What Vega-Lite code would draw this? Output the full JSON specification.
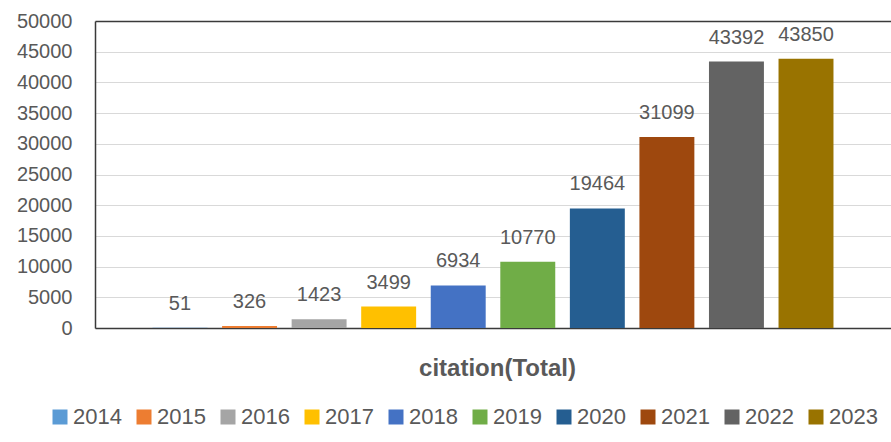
{
  "$schema": "https://vega.github.io/schema/vega-lite/v6.json",
  "autosize": {"type": "none"},
  "width": 796,
  "height": 307,
  "padding": {"left": 95, "top": 21, "right": 0, "bottom": 114},
  "background": "white",
  "config": {"view": {"stroke": null}, "font": "Liberation Sans"},
  "data": {
    "values": [
      {"year": "2014", "citations": 51},
      {"year": "2015", "citations": 326},
      {"year": "2016", "citations": 1423},
      {"year": "2017", "citations": 3499},
      {"year": "2018", "citations": 6934},
      {"year": "2019", "citations": 10770},
      {"year": "2020", "citations": 19464},
      {"year": "2021", "citations": 31099},
      {"year": "2022", "citations": 43392},
      {"year": "2023", "citations": 43850}
    ]
  },
  "encoding": {
    "x": {
      "field": "year",
      "type": "nominal",
      "scale": {"paddingInner": 0.21, "paddingOuter": 0.827},
      "axis": {
        "labels": false,
        "ticks": false,
        "domain": true,
        "domainColor": "#3a3a3a",
        "domainWidth": 1.5,
        "grid": false,
        "title": "citation(Total)",
        "titleFont": "Liberation Sans",
        "titleFontSize": 24,
        "titleFontWeight": "bold",
        "titleColor": "#595959",
        "titlePadding": 28,
        "titleX": 402
      }
    },
    "y": {
      "field": "citations",
      "type": "quantitative",
      "scale": {"domain": [0, 50000], "nice": false},
      "axis": {
        "values": [0, 5000, 10000, 15000, 20000, 25000, 30000, 35000, 40000, 45000, 50000],
        "title": null,
        "ticks": false,
        "domainColor": "#3a3a3a",
        "domainWidth": 1.5,
        "grid": true,
        "gridColor": {"condition": {"test": "datum.value === 50000", "value": "#3a3a3a"}, "value": "#d9d9d9"},
        "gridWidth": {"condition": {"test": "datum.value === 50000", "value": 1.5}, "value": 1},
        "labelFontSize": 20,
        "labelColor": "#595959",
        "labelPadding": 23,
        "labelOverlap": false,
        "labelFlush": false,
        "format": "d"
      }
    }
  },
  "layer": [
    {
      "mark": {"type": "bar"},
      "encoding": {
        "color": {
          "field": "year",
          "type": "nominal",
          "scale": {
            "domain": ["2014", "2015", "2016", "2017", "2018", "2019", "2020", "2021", "2022", "2023"],
            "range": ["#5B9BD5", "#ED7D31", "#A5A5A5", "#FFC000", "#4472C4", "#70AD47", "#255E91", "#9E480E", "#636363", "#997300"]
          },
          "legend": {
            "orient": "none",
            "direction": "horizontal",
            "columns": 10,
            "legendX": -46,
            "legendY": 385,
            "title": null,
            "symbolType": "square",
            "symbolSize": 225,
            "symbolStrokeWidth": 0,
            "labelFontSize": 22,
            "labelColor": "#595959",
            "labelOffset": 2,
            "columnPadding": 11
          }
        }
      }
    },
    {
      "mark": {"type": "text", "dy": -18, "baseline": "alphabetic", "fontSize": 20, "color": "#595959"},
      "encoding": {
        "text": {"field": "citations", "type": "quantitative", "format": "d"}
      }
    }
  ]
}
